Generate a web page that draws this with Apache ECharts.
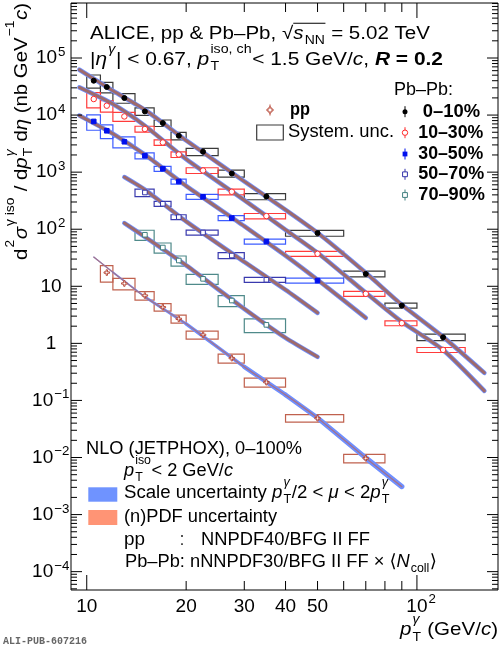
<!DOCTYPE html>
<html>
<head>
<meta charset="utf-8">
<title>Isolated photon spectra, pp and Pb-Pb</title>
<script src="https://cdn.jsdelivr.net/npm/echarts@6/dist/echarts.min.js"></script>
<style>
html, body { margin: 0; padding: 0; background: #fff; }
#main { width: 503px; height: 650px; }
</style>
</head>
<body>
<div id="main"></div>
<script>
// axis ranges (GeV/c and nb GeV^-1 c)
var xMin = 8.96, xMax = 176;
var yMin = 4.77e-5, yMax = 9.2e5;

// bin edges of each data set
var bins0010 = [10, 11, 12, 14, 16, 18, 20, 25, 30, 40, 60, 80, 100, 140];
var bins3050 = [10, 11, 12, 14, 16, 18, 20, 25, 30, 40, 60];
var bins5070 = [14, 16, 18, 20, 25, 30, 40];
var binsPP = [11, 12, 14, 16, 18, 20, 25, 30, 40, 60, 80];

// measured cross sections and relative systematic uncertainties
var val0010 = [40000, 31000, 19900, 11600, 7250, 4340, 2280, 948, 375, 85.5, 16.5, 4.6, 1.28];
var sys0010 = [0.26, 0.21, 0.19, 0.15, 0.13, 0.15, 0.145, 0.14, 0.125, 0.12, 0.115, 0.10, 0.13];
var val1030 = [19100, 14600, 9460, 5690, 3310, 2040, 1070, 453, 170, 37.1, 7.38, 2.26, 0.769];
var sys1030 = [0.30, 0.23, 0.18, 0.12, 0.11, 0.115, 0.115, 0.115, 0.11, 0.10, 0.10, 0.10, 0.10];
var val3050 = [7740, 5310, 3410, 1940, 1150, 687, 370, 157, 60.9, 12.6];
var sys3050 = [0.30, 0.27, 0.22, 0.12, 0.10, 0.10, 0.10, 0.10, 0.10, 0.10];
var val5070 = [440, 279, 163, 87.5, 34.6, 13.0];
var sys5070 = [0.15, 0.10, 0.10, 0.10, 0.12, 0.10];
var val7090 = [80, 47.8, 28.3, 13.5, 5.63, 2.11];
var sys7090 = [0.20, 0.20, 0.20, 0.20, 0.22, 0.27];
var valPP = [17.4, 11.2, 6.89, 4.31, 2.69, 1.41, 0.551, 0.209, 0.0489, 0.0097];
var sysPP = [0.32, 0.23, 0.17, 0.15, 0.16, 0.16, 0.18, 0.18, 0.15, 0.17];

// JETPHOX curves
var thPt0010 = [9.5, 12, 15, 20, 30, 40, 50, 70, 90, 120, 160];
var th0010 = [62400, 26700, 12400, 3590, 689, 219, 86.5, 17.2, 4.73, 1.30, 0.304];
var th1030 = [30500, 15600, 6500, 1690, 323, 97.7, 38.6, 7.69, 2.38, 0.769, 0.147];
var thPt3050 = [9.5, 12, 15, 20, 30, 40, 50, 70];
var th3050 = [9800, 4710, 2020, 574, 113, 34.5, 13.0, 2.80];
var thPt5070 = [13, 15, 20, 30, 40, 50];
var th5070 = [820, 492, 137, 26.8, 8.67, 3.43];
var th7090 = [128, 73.6, 23.3, 4.03, 1.25, 0.58];
var thPtPP = [10.5, 12, 15, 20, 30, 40, 50, 70, 90];
var thPP = [32.5, 17.6, 6.53, 2.20, 0.387, 0.125, 0.0494, 0.00984, 0.00309];
var ppBandW = [1.2, 1.8, 2.8, 3.6, 4.4, 4.8, 5.0, 5.2];

// ticks
var yMajor = [1e-4, 1e-3, 1e-2, 1e-1, 1, 10, 1e2, 1e3, 1e4, 1e5];
var yTickLabels = ['10^\u22124', '10^\u22123', '10^\u22122', '10^\u22121', '1', '10', '10^2', '10^3', '10^4', '10^5'];
var xMajor = [10, 100];
var xMinor = [20, 30, 40, 50, 60, 70, 80, 90];
var xTickValues = [10, 20, 30, 40, 50, 100];
var xTickLabels = ['10', '20', '30', '40', '50', '10^2'];

var FAM = '"Liberation Sans", "DejaVu Sans", sans-serif';
var mctx = document.createElement('canvas').getContext('2d');

function measure(s, size, b, i, fam) {
    mctx.font = (i ? 'italic ' : '') + (b ? 'bold ' : '') + size + 'px ' + (fam || FAM);
    return mctx.measureText(s).width;
}

function txt(s, x, y, size, b, i, color, fam) {
    return {
        type: 'text', x: x, y: y, silent: true,
        style: {
            text: s, fill: color, fontSize: size, fontFamily: fam || FAM,
            fontWeight: b ? 'bold' : 'normal', fontStyle: i ? 'italic' : 'normal',
            align: 'left', textAlign: 'left', verticalAlign: 'middle', textVerticalAlign: 'middle'
        }
    };
}

// small TLatex-like layout: strings, {t,i,b}, {sub,sup} stacked scripts, {mark}/{bar} overline
function latex(pieces, size, opt) {
    opt = opt || {};
    var color = opt.color || '#000', ss = size * (opt.ratio || 0.68);
    var supDy = opt.supDy !== undefined ? opt.supDy : -0.58, subDy = 0.38;
    var ch = [], cx = 0, mark = 0;
    pieces.forEach(function (p) {
        if (typeof p === 'string') p = {t: p};
        var b = p.b !== undefined ? p.b : !!opt.bold;
        if (p.t !== undefined) {
            ch.push(txt(p.t, cx, 0, size, b, p.i, color, opt.fam));
            cx += measure(p.t, size, b, p.i, opt.fam);
        } else if (p.sup !== undefined || p.sub !== undefined) {
            var w = 0;
            if (p.sup) {
                ch.push(txt(p.sup, cx + 1, size * supDy, ss, false, p.si, color));
                w = measure(p.sup, ss, false, p.si);
            }
            if (p.sub) {
                ch.push(txt(p.sub, cx + 1, size * subDy, ss, false, false, color));
                w = Math.max(w, measure(p.sub, ss, false, false));
            }
            cx += w + 1.5;
        } else if (p.mark) {
            mark = cx;
        } else if (p.bar) {
            ch.push({type: 'line', silent: true, shape: {x1: mark, y1: -size * 0.6, x2: cx, y2: -size * 0.6},
                style: {stroke: color, lineWidth: 1}});
        }
    });
    var sx = opt.w ? opt.w / cx : 1;
    return {
        w: cx,
        el: {type: 'group', x: opt.x || 0, y: opt.y || 0, rotation: opt.rot || 0, scaleX: sx, scaleY: 1, children: ch}
    };
}

function tickLabel(s, size, supDy) {
    var parts = s.split('^');
    var pieces = [parts[0]];
    if (parts.length > 1) pieces.push({sup: parts[1]});
    return latex(pieces, size, {ratio: 0.7, supDy: supDy});
}

function boxSeries(edges, vals, sys, color) {
    return {
        type: 'custom', z: 2, silent: true, clip: true,
        encode: {x: [0, 1], y: [2]},
        data: vals.map(function (v, i) { return [edges[i], edges[i + 1], v, sys[i]]; }),
        renderItem: function (params, api) {
            var v = api.value(2), s = api.value(3);
            var a = api.coord([api.value(0), v * (1 + s)]);
            var b = api.coord([api.value(1), v * (1 - s)]);
            return {
                type: 'rect',
                shape: {x: a[0], y: a[1], width: b[0] - a[0], height: b[1] - a[1]},
                style: {fill: 'none', stroke: color, lineWidth: 1.2}
            };
        }
    };
}

function markerSeries(edges, vals, symbol, size, fill, stroke) {
    return {
        type: 'scatter', z: 5, silent: true, symbol: symbol, symbolSize: size,
        itemStyle: {color: fill, borderColor: stroke, borderWidth: 1, opacity: 1},
        data: vals.map(function (v, i) { return [(edges[i] + edges[i + 1]) / 2, v]; })
    };
}

function curve(pts, vals, color, width, z, opacity) {
    return {
        type: 'line', z: z, silent: true, showSymbol: false, symbol: 'none', smooth: 0.2,
        lineStyle: {color: color, width: width, cap: 'round', opacity: opacity || 1},
        data: pts.map(function (p, i) { return [p, vals[i]]; })
    };
}

var BLUE = '#6f8fff', CORE = '#9e6a6c';
var series = [];
series.push(boxSeries(bins0010, val0010, sys0010, '#3a3a3a'));
series.push(boxSeries(bins0010, val1030, sys1030, '#ff3b3b'));
series.push(boxSeries(bins3050, val3050, sys3050, '#3d5cff'));
series.push(boxSeries(bins5070, val5070, sys5070, '#3a3aae'));
series.push(boxSeries(bins5070, val7090, sys7090, '#4f8a8a'));
series.push(boxSeries(binsPP, valPP, sysPP, '#c0614e'));

[[thPt0010, th0010], [thPt0010, th1030], [thPt3050, th3050], [thPt5070, th5070], [thPt5070, th7090]]
    .forEach(function (c) {
        series.push(curve(c[0], c[1], BLUE, 4.6, 3));
        series.push(curve(c[0], c[1], CORE, 3.0, 4));
    });
for (var k = 0; k < thPtPP.length - 1; k++) {
    series.push(curve(thPtPP.slice(k, k + 2), thPP.slice(k, k + 2), BLUE, ppBandW[k], 3));
}
series.push(curve(thPtPP, thPP, '#b8675e', 1.3, 4, 0.7));

var crossPath = 'path://M3,0H5V3H8V5H5V8H3V5H0V3H3Z';
series.push(markerSeries(bins0010, val0010, 'circle', 5, '#000', '#000'));
series.push(markerSeries(bins0010, val1030, 'circle', 5.5, '#fff', '#ff2a2a'));
series.push(markerSeries(bins3050, val3050, 'rect', 4.6, '#0010ee', '#0010ee'));
series.push(markerSeries(bins5070, val5070, 'rect', 4.6, '#fff', '#3333aa'));
series.push(markerSeries(bins5070, val7090, 'rect', 4.6, '#fff', '#3f7f7f'));
series.push(markerSeries(binsPP, valPP, crossPath, 5.5, '#fff', '#b84a3a'));

// frame ticks and tick labels, placed through the axes
series.push({
    type: 'custom', z: 6, silent: true, clip: false, data: [[20, 1]],
    renderItem: function (params, api) {
        var ch = [];
        function seg(a, b) {
            ch.push({type: 'line', shape: {x1: a[0], y1: a[1], x2: b[0], y2: b[1]}, style: {stroke: '#000', lineWidth: 1}});
        }
        function yTick(v, len) {
            var l = api.coord([xMin, v]), r = api.coord([xMax, v]);
            seg(l, [l[0] + len, l[1]]);
            seg(r, [r[0] - len, r[1]]);
        }
        function xTick(v, len) {
            var b = api.coord([v, yMin]), t = api.coord([v, yMax]);
            seg(b, [b[0], b[1] - len]);
            seg(t, [t[0], t[1] + len]);
        }
        yMajor.forEach(function (v) { yTick(v, 11); });
        for (var e = -5; e <= 5; e++) {
            for (var m = 2; m <= 9; m++) {
                var v = m * Math.pow(10, e);
                if (v > yMin && v < yMax) yTick(v, 6);
            }
        }
        xMajor.forEach(function (v) { xTick(v, 15); });
        xMinor.forEach(function (v) { xTick(v, 9); });

        yMajor.forEach(function (v, i) {
            var p = api.coord([xMin, v]);
            var lab = tickLabel(yTickLabels[i], 19, -0.3);
            lab.el.x = p[0] - 20 - lab.w / 2;
            lab.el.y = p[1];
            ch.push(lab.el);
        });
        xTickValues.forEach(function (v, i) {
            var p = api.coord([v, yMin]);
            var lab = tickLabel(xTickLabels[i], 19, -0.42);
            lab.el.x = p[0] - measure(xTickLabels[i].split('^')[0], 19) / 2;
            lab.el.y = p[1] + 17;
            ch.push(lab.el);
        });
        return {type: 'group', children: ch};
    }
});

// texts
var g = [];
function put(pieces, x, y, size, w, extra) {
    var o = {x: x, y: y, w: w};
    for (var key in extra) o[key] = extra[key];
    g.push(latex(pieces, size, o).el);
}
put(['ALICE, pp & Pb\u2013Pb, ', '\u221A', {mark: 1}, {t: 's', i: true}, {sub: 'NN'}, {bar: 1}, ' = 5.02 TeV'],
    90, 34, 18, 340);
put(['|', {t: '\u03B7', i: true}, {sup: '\u03B3', si: true}, '| < 0.67, ', {t: 'p', i: true}, {sub: 'T', sup: 'iso, ch'},
    '< 1.5 GeV/', {t: 'c', i: true}, ', ', {t: 'R', i: true, b: true}, {t: ' = 0.2', b: true}], 90, 60, 18, 353);
put([{t: 'pp', b: true}], 290, 110, 18, 20);
put(['System. unc.'], 288, 131.7, 18, 106);
put(['Pb\u2013Pb:'], 394, 90, 18, 59);
put([{t: '0\u201310%', b: true}], 422.7, 111.7, 18, 57.3);
put([{t: '10\u201330%', b: true}], 418.3, 132.7, 18, 65);
put([{t: '30\u201350%', b: true}], 418.3, 154, 18, 65);
put([{t: '50\u201370%', b: true}], 418.3, 174.3, 18, 66);
put([{t: '70\u201390%', b: true}], 418.3, 195, 18, 66.7);

put(['NLO (JETPHOX), 0\u2013100%'], 86, 449, 18, 216);
put([{t: 'p', i: true}, {sub: 'T', sup: 'iso'}, '< 2 GeV/', {t: 'c', i: true}], 124, 471, 18, 109);
put(['Scale uncertainty ', {t: 'p', i: true}, {sub: 'T', sup: '\u03B3', si: true}, '/2 < ', {t: '\u03BC', i: true}, ' < 2',
    {t: 'p', i: true}, {sub: 'T', sup: '\u03B3', si: true}], 124, 493, 18, 266);
put(['(n)PDF uncertainty'], 124, 516.7, 18, 153);
put(['pp'], 124, 540, 18, 21);
put([':'], 180, 540, 18, 4);
put(['NNPDF40/BFG II FF'], 201, 540, 18, 169);
put(['Pb\u2013Pb: nNNPDF30/BFG II FF \u00D7 \u27E8', {t: 'N', i: true}, {sub: 'coll'}, '\u27E9'], 125, 561.7, 18, 312);

put([{t: 'p', i: true}, {sub: 'T', sup: '\u03B3', si: true}, ' (GeV/', {t: 'c', i: true}, ')'], 400, 630, 19, 98);
put([{t: 'd'}, {sup: '2'}, {t: '\u03C3', i: true}, {sup: '\u03B3 iso', si: false}, ' / d', {t: 'p', i: true},
    {sub: 'T', sup: '\u03B3', si: true}, ' d', {t: '\u03B7', i: true}, ' (nb GeV', {sup: '\u22121'}, {t: 'c', i: true}, ')'],
    21.5, 260, 19, 257, {rot: Math.PI / 2});
g.push(txt('ALI-PUB-607216', 3, 641.7, 10, true, false, '#666', '"Liberation Mono", "DejaVu Sans Mono", monospace'));

// legend markers and boxes
function vbar(x, y, color) {
    g.push({type: 'line', shape: {x1: x, y1: y - 5.5, x2: x, y2: y + 5.5}, style: {stroke: color, lineWidth: 1}});
}
vbar(270, 110, '#b84a3a');
g.push({type: 'polygon', shape: {points: [[269, 107], [271, 107], [271, 109], [273, 109], [273, 111], [271, 111],
    [271, 113], [269, 113], [269, 111], [267, 111], [267, 109], [269, 109]]},
    style: {fill: '#fff', stroke: '#b84a3a', lineWidth: 1}});
g.push({type: 'rect', shape: {x: 256.7, y: 125, width: 26.6, height: 15}, style: {fill: 'none', stroke: '#3a3a3a', lineWidth: 1.2}});
vbar(405, 111.7, '#000');
g.push({type: 'circle', shape: {cx: 405, cy: 111.7, r: 2.5}, style: {fill: '#000'}});
vbar(405, 132.7, '#ff2a2a');
g.push({type: 'circle', shape: {cx: 405, cy: 132.7, r: 2.7}, style: {fill: '#fff', stroke: '#ff2a2a', lineWidth: 1}});
vbar(405, 154, '#0010ee');
g.push({type: 'rect', shape: {x: 402.6, y: 151.6, width: 4.8, height: 4.8}, style: {fill: '#0010ee'}});
vbar(405, 174.3, '#3333aa');
g.push({type: 'rect', shape: {x: 402.6, y: 171.9, width: 4.8, height: 4.8}, style: {fill: '#fff', stroke: '#3333aa', lineWidth: 1}});
vbar(405, 195, '#3f7f7f');
g.push({type: 'rect', shape: {x: 402.6, y: 192.6, width: 4.8, height: 4.8}, style: {fill: '#fff', stroke: '#3f7f7f', lineWidth: 1}});
g.push({type: 'rect', shape: {x: 88.3, y: 487.3, width: 29, height: 14.4}, style: {fill: '#6f93ff'}});
g.push({type: 'rect', shape: {x: 88.3, y: 510, width: 29, height: 15}, style: {fill: '#ff9475'}});

var chart = echarts.init(document.getElementById('main'));
chart.setOption({
    animation: false,
    backgroundColor: '#fff',
    grid: {left: 71, right: 5, top: 3, bottom: 60, show: true, borderColor: '#000', borderWidth: 1, backgroundColor: 'transparent'},
    xAxis: {
        type: 'log', logBase: 10, min: xMin, max: xMax,
        axisLine: {show: false}, axisTick: {show: false}, axisLabel: {show: false}, splitLine: {show: false}
    },
    yAxis: {
        type: 'log', logBase: 10, min: yMin, max: yMax,
        axisLine: {show: false}, axisTick: {show: false}, axisLabel: {show: false}, splitLine: {show: false}
    },
    graphic: {elements: g},
    series: series
});
</script>
</body>
</html>
